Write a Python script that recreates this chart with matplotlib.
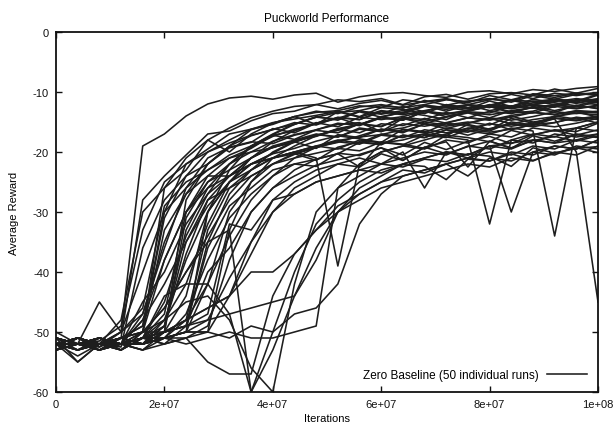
import matplotlib
matplotlib.use("Agg")
import matplotlib.pyplot as plt
from matplotlib.lines import Line2D

plt.rcParams['font.family'] = ['Liberation Sans', 'DejaVu Sans']
plt.rcParams['axes.unicode_minus'] = False

title = "Puckworld Performance"
x_label = "Iterations"
y_label = "Average Reward"
legend_label = "Zero Baseline (50 individual runs)"

iterations = [0, 4e6, 8e6, 12e6, 16e6, 20e6, 24e6, 28e6, 32e6, 36e6, 40e6, 44e6, 48e6,
              52e6, 56e6, 60e6, 64e6, 68e6, 72e6, 76e6, 80e6, 84e6, 88e6, 92e6, 96e6, 100e6]

x_ticks = [0, 2e7, 4e7, 6e7, 8e7, 1e8]
x_tick_labels = ["0", "2e+07", "4e+07", "6e+07", "8e+07", "1e+08"]
y_ticks = [0, -10, -20, -30, -40, -50, -60]
y_tick_labels = ["0", "-10", "-20", "-30", "-40", "-50", "-60"]

r01 = [-52,-51,-52.5,-50,-19,-17,-14,-12,-11,-10.7,-11.2,-10.5,-10.2,-11.7,-10.8,-10.3,-10.1,-10.6,-10.9,-10,-9.8,-10.3,-9.6,-9.9,-9.4,-9.1]
r02 = [-51,-52,-53,-51,-28,-24,-20.5,-17,-16.5,-14.8,-13.6,-13.2,-12.1,-12.8,-11.9,-11.4,-12.2,-11.6,-11.1,-11.8,-10.6,-11.3,-10.4,-10.9,-10.2,-10.6]
r03 = [-53,-52,-51.5,-49,-33,-25,-22,-19.5,-17,-16.2,-15.1,-14.5,-13.9,-13.2,-14.1,-12.6,-12.9,-13.6,-12.2,-12.8,-11.5,-12.4,-11.2,-11.8,-12.3,-11.4]
r04 = [-52,-54,-52,-52.5,-36,-28,-24,-22,-19.3,-18.4,-16.1,-16.8,-15.2,-14.3,-15.5,-14.1,-13.4,-13.9,-14.6,-13.1,-12.4,-13.5,-13.2,-12.1,-12.7,-12.2]
r05 = [-50,-52,-45,-50,-40,-30,-26,-23,-20.5,-19,-17.2,-17.9,-16.3,-15.4,-15.1,-16.6,-14.4,-15.3,-14.2,-13.5,-14.3,-13.1,-12.6,-13.4,-12.2,-12.8]
r06 = [-52,-51,-52,-48,-30,-26,-23,-18,-20,-17,-15.2,-14.1,-15.4,-13.3,-14.2,-13.1,-13.6,-12.4,-12.9,-12.2,-13.1,-12.5,-11.8,-11.3,-11.9,-11.1]
r07 = [-52,-53,-52,-52,-50,-26,-21,-18,-16,-14.3,-13.2,-12.4,-12.1,-11.3,-11.6,-11.1,-12.1,-10.8,-10.4,-11.2,-10.3,-10.1,-10.5,-9.5,-10.2,-9.4]
r08 = [-51,-52,-52.5,-51,-49,-31,-24,-20,-18,-16.2,-15.4,-14.1,-13.2,-13.6,-12.5,-12.1,-12.7,-11.4,-12.2,-11.5,-11.1,-11.7,-10.6,-11.2,-10.4,-10.1]
r09 = [-53,-52,-51,-52,-47,-35,-27,-22,-19,-17.3,-16.2,-15.4,-14.1,-14.7,-13.2,-13.6,-12.4,-13.3,-12.1,-12.6,-12.2,-11.3,-12.1,-11.6,-11.1,-11.5]
r10 = [-52,-51,-52,-50,-46,-29,-25,-23,-21,-19.4,-17.2,-16.5,-15.1,-15.8,-14.2,-14.6,-14.1,-13.2,-13.7,-13.1,-12.4,-13.3,-12.6,-12.1,-12.5,-11.6]
r11 = [-52,-52,-53,-52,-48,-38,-30,-25,-22,-20,-19.3,-18.1,-17.4,-16.2,-16.8,-15.3,-15.6,-14.4,-15.2,-14.3,-14.7,-13.9,-13.4,-13.8,-13.1,-13.3]
r12 = [-51,-55,-52,-51,-50,-33,-27,-24,-24,-21,-19.2,-18.3,-19.4,-17.1,-17.6,-16.2,-16.8,-15.3,-16.1,-15.2,-14.4,-15.3,-14.6,-14.1,-13.5,-13.8]
r13 = [-52,-52,-51,-52,-45,-40,-32,-27,-22,-19,-17.1,-15.4,-14.2,-14.5,-13.3,-14.2,-13.4,-12.3,-12.6,-13.1,-12.1,-12.4,-11.5,-12.1,-11.3,-11.6]
r14 = [-53,-51,-52,-51,-49,-30,-22,-20,-18.5,-17.2,-16.3,-15.1,-15.5,-14.2,-14.6,-13.3,-13.8,-13.1,-12.4,-12.8,-12.2,-12.6,-12.1,-11.4,-11.7,-12.1]
r15 = [-52,-52,-52,-50,-47,-36,-26,-21,-19.2,-18.3,-18.6,-17.2,-16.4,-16.8,-15.3,-15.7,-14.4,-14.9,-14.1,-13.4,-13.8,-13.2,-13.5,-12.4,-12.8,-12.3]
r16 = [-51,-52,-53,-52,-48,-42,-35,-29,-25,-22,-20.3,-19.4,-18.2,-17.3,-17.8,-18.4,-16.2,-16.6,-17.3,-15.4,-16.2,-15.3,-15.6,-14.4,-14.8,-14.2]
r17 = [-52,-51,-52,-52,-51,-50,-28,-22,-19,-16.3,-15.2,-14.1,-13.4,-13.1,-12.3,-12.6,-11.3,-11.7,-11.2,-12.1,-11.3,-10.4,-11.1,-10.2,-10.6,-10.1]
r18 = [-53,-52,-52,-51,-52,-49,-33,-26,-22,-19.2,-17.4,-16.2,-15.3,-14.4,-13.2,-13.7,-13.1,-12.3,-13.2,-12.2,-12.6,-11.4,-12.1,-11.3,-11.7,-10.5]
r19 = [-52,-52,-51,-53,-50,-48,-38,-30,-25,-22,-20.2,-18.3,-17.2,-16.4,-15.3,-15.8,-14.2,-14.6,-13.4,-14.3,-13.2,-13.6,-12.4,-13.1,-12.3,-12.7]
r20 = [-51,-53,-52,-52,-51,-47,-30,-24,-21,-20,-18.2,-17.1,-16.3,-15.2,-15.6,-14.3,-14.7,-13.2,-14.1,-13.3,-13.5,-12.3,-12.7,-12.2,-11.4,-11.8]
r21 = [-52,-52,-53,-51,-50,-46,-40,-34,-28,-24,-22,-20.2,-19.3,-18.1,-17.5,-17.1,-16.3,-16.8,-15.2,-15.6,-16.3,-14.4,-15.2,-14.1,-13.3,-14.2]
r22 = [-52,-51,-52,-52,-52,-49,-35,-28,-26,-23,-21,-20.3,-21.4,-19.2,-18.3,-18.7,-17.2,-17.6,-16.3,-17.2,-16.1,-15.4,-15.8,-15.1,-14.3,-15.2]
r23 = [-53,-52,-51,-52,-51,-48,-42,-32,-25,-21,-18.3,-16.4,-15.2,-14.3,-14.6,-13.2,-13.5,-12.2,-12.6,-12.1,-12.4,-11.3,-11.6,-11.2,-11.5,-10.4]
r24 = [-51,-52,-52,-53,-50,-50,-31,-25,-23,-21,-19.2,-18.4,-17.1,-17.5,-16.2,-16.6,-15.3,-15.7,-15.1,-14.3,-14.6,-14.2,-13.4,-13.7,-13.2,-13.5]
r25 = [-52,-53,-52,-52,-51,-44,-42,-42,-30,-25,-22,-20.4,-19.2,-18.3,-18.7,-17.2,-17.6,-16.3,-16.8,-16.1,-15.3,-15.7,-15.2,-14.3,-14.7,-14.1]
r26 = [-52,-52,-51,-52,-52,-51,-50,-30,-23,-19,-17,-15.3,-14.2,-13.4,-13.1,-12.3,-12.6,-12.1,-11.3,-11.6,-11.2,-11.5,-10.3,-10.6,-10.2,-10.4]
r27 = [-51,-52,-52,-52,-53,-50,-49,-35,-27,-23,-20,-18.2,-17.3,-16.1,-15.4,-14.2,-14.6,-13.3,-13.7,-13.2,-12.4,-12.8,-12.2,-12.5,-11.3,-11.6]
r28 = [-53,-51,-52,-51,-52,-51,-47,-38,-31,-27,-24,-22,-21.2,-20.3,-22.5,-18.4,-18.8,-17.2,-17.6,-16.3,-16.7,-16.2,-15.4,-15.8,-15.2,-14.4]
r29 = [-52,-52,-53,-52,-51,-50,-48,-33,-26,-24,-22,-21,-20.2,-19.4,-19.8,-18.3,-18.7,-19.4,-17.2,-17.6,-18.3,-16.4,-17.2,-16.3,-16.6,-15.2]
r30 = [-52,-51,-52,-52,-52,-51,-50,-42,-34,-28,-24,-21,-19.2,-18.4,-17.3,-16.2,-16.6,-15.3,-15.7,-15.2,-14.3,-14.7,-14.1,-13.3,-13.6,-13.2]
r31 = [-51,-52,-52,-53,-51,-52,-49,-40,-36,-30,-26,-24,-22.2,-21.3,-20.4,-19.3,-20.5,-18.4,-19.6,-18.2,-17.4,-18.6,-17.1,-16.4,-17.2,-16.3]
r32 = [-52,-53,-51,-52,-52,-50,-49,-36,-29,-26,-23,-22,-22.4,-20.2,-20.6,-19.3,-21.4,-19.2,-18.3,-22.5,-18.2,-19.4,-17.3,-18.2,-17.1,-17.6]
r33 = [-52,-55,-52,-51,-52,-51,-50,-50,-33,-25,-21,-19,-17.3,-16.2,-15.4,-14.3,-14.7,-13.2,-13.6,-13.1,-12.3,-12.7,-12.1,-12.5,-11.4,-11.2]
r34 = [-53,-52,-51,-52,-51,-52,-51,-49,-38,-30,-26,-23,-21.2,-20.3,-18.4,-18.8,-17.2,-17.6,-16.3,-16.7,-15.2,-16.3,-15.4,-15.1,-14.2,-14.6]
r35 = [-52,-51,-52,-52,-53,-51,-50,-48,-41,-35,-30,-26,-24,-22,-22.5,-20.3,-21.4,-19.2,-20.3,-19.1,-18.2,-19.3,-18.1,-17.4,-18.2,-17.3]
r36 = [-51,-52,-53,-52,-52,-50,-49,-47,-32,-33,-28,-27,-25,-24,-23,-22,-22.5,-21.2,-21.6,-20.3,-20.7,-22.4,-19.3,-20.2,-19.4,-19.1]
r37 = [-52,-52,-52,-53,-51,-51,-48,-46,-44,-37,-30,-27,-25,-24,-23,-23.5,-22.1,-22.4,-24.6,-21.2,-21.5,-20.3,-21.4,-20.2,-19.3,-20.1]
r38 = [-52,-52,-51,-52,-52,-50,-48,-42,-47,-60,-50,-40,-32,-28,-25,-23,-22,-21,-20,-20.5,-19,-19.5,-18,-18.5,-18,-17]
r39 = [-52,-53,-52,-51,-50,-46,-40,-35,-33,-60,-53,-44,-36,-30,-27,-25,-24,-23,-22,-21,-21.5,-20,-20.5,-19,-19.5,-18]
r40 = [-52,-51,-52,-52,-51,-51,-51,-55,-57,-57,-44,-37,-33,-30,-28,-26,-25,-24,-23,-22,-22.5,-21,-21.5,-20,-20.5,-19]
r41 = [-52,-52,-53,-51,-52,-48,-45,-44,-48,-56,-60,-42,-30,-26,-24,-22,-21,-20,-20.5,-19,-19.5,-18,-18.5,-17,-17.5,-17]
r42 = [-52,-52,-51,-52,-52,-51,-52,-51,-50,-51,-51,-50,-49,-26,-22,-20,-19,-18,-17,-16,-16.5,-15,-15.5,-14,-14.5,-14]
r43 = [-52,-51,-52,-52,-51,-50,-49,-48,-47,-46,-45,-44,-38,-30,-26,-24,-22,-21,-20,-20.5,-19,-18.5,-18,-18.5,-17,-17.5]
r44 = [-53,-52,-52,-51,-52,-51,-50,-50,-51,-49,-50,-47,-46,-42,-32,-27,-24,-23,-22,-21,-20,-20.5,-19,-19.5,-18,-18.5]
r45 = [-52,-52,-52,-53,-51,-50,-48,-46,-44,-40,-40,-37,-33,-29,-27,-25,-23,-23.5,-22,-24,-21,-21.5,-20,-20.5,-19,-19.5]
r46 = [-52,-52,-51,-52,-50,-38,-30,-26,-24,-22,-21,-20,-21,-39,-22,-20,-19,-19.5,-18,-18.5,-17,-17.5,-16,-16.5,-16,-15]
r47 = [-51,-52,-52,-52,-51,-45,-34,-27,-24,-22,-21,-20,-19,-19.5,-18,-18.5,-18,-17,-17.5,-18,-32,-18,-17,-17.5,-16,-16.5]
r48 = [-52,-53,-52,-51,-52,-50,-44,-30,-25,-23,-21,-20,-19,-18,-18.5,-17,-17.5,-17,-16,-16.5,-17,-16,-16.5,-34,-16,-15]
r49 = [-52,-52,-52,-52,-51,-49,-37,-28,-24,-21,-19,-18,-17,-17.5,-16,-16.5,-16,-15,-15.5,-15,-15.5,-14,-15,-14.5,-20,-45]
r50 = [-52,-51,-53,-52,-53,-52,-51,-50,-44,-35,-28,-25,-23,-22,-21,-22,-20,-26,-20,-21,-19,-30,-20,-19,-19.5,-18]

runs = [r01, r02, r03, r04, r05, r06, r07, r08, r09, r10,
        r11, r12, r13, r14, r15, r16, r17, r18, r19, r20,
        r21, r22, r23, r24, r25, r26, r27, r28, r29, r30,
        r31, r32, r33, r34, r35, r36, r37, r38, r39, r40,
        r41, r42, r43, r44, r45, r46, r47, r48, r49, r50]

line_color = "#1e1e1e"

fig = plt.figure(figsize=(6.14, 4.27), dpi=100)
ax = fig.add_axes([56/614, 1 - 393/427, 542/614, 360/427])

for run in runs:
    ax.plot(iterations, run, color=line_color, linewidth=1.15)

ax.set_xlim(0, 1e8)
ax.set_ylim(-60, 0)
ax.set_xticks(x_ticks)
ax.set_xticklabels(x_tick_labels)
ax.set_yticks(y_ticks)
ax.set_yticklabels(y_tick_labels)
ax.tick_params(direction='in', length=4, width=1.0, top=True, right=True,
               labelsize=8, pad=5, colors='#111111')
for s in ax.spines.values():
    s.set_linewidth(1.3)
    s.set_color('#111111')

ax.set_title(title, fontsize=8.5, pad=8)
ax.set_xlabel(x_label, fontsize=8, labelpad=3)
ax.set_ylabel(y_label, fontsize=8, labelpad=10)

handle = Line2D([], [], color=line_color, linewidth=1.15)
ax.legend([handle], [legend_label], loc='lower right', frameon=False,
          markerfirst=False, handlelength=3.4, handletextpad=0.7,
          fontsize=8.5, borderaxespad=0.5)

fig.savefig("out.png", dpi=100)
